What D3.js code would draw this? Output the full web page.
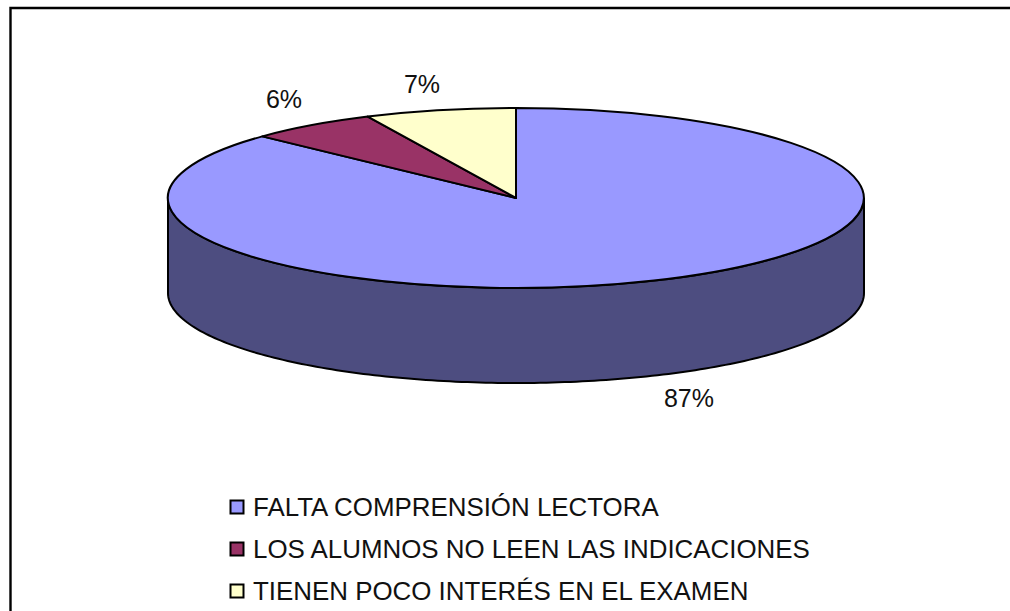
<!DOCTYPE html>
<html><head><meta charset="utf-8">
<style>html,body{margin:0;padding:0;background:#fff}svg{display:block}text{font-family:"Liberation Sans",Arial,sans-serif;fill:#111}</style>
<script src="https://cdn.jsdelivr.net/npm/d3@7"></script></head><body>
<script>
const categories=["FALTA COMPRENSIÓN LECTORA","LOS ALUMNOS NO LEEN LAS INDICACIONES","TIENEN POCO INTERÉS EN EL EXAMEN"];
const values=[87,6,7];
const colors=["#9999ff","#993366","#ffffcc"];
const sideColor="#4d4d80";
const W=1010,H=611,cx=516,cy=198,rx=348,ry=90,depth=95;
const svg=d3.select("body").append("svg").attr("width",W).attr("height",H);
svg.append("path").attr("d",`M10.5,${H}V8H${W}`).attr("fill","none").attr("stroke","#000").attr("stroke-width",2.4);
const arcs=d3.pie().sort(null).value(d=>d)(values);
const px=d3.scaleLinear().domain([-1,1]).range([cx-rx,cx+rx]);
const py=d3.scaleLinear().domain([-1,1]).range([cy-ry,cy+ry]);
const steps=d3.range(90,270.01,1).map(a=>a*Math.PI/180);
const wall=d3.area().x(t=>px(Math.sin(t))).y0(t=>py(-Math.cos(t))).y1(t=>py(-Math.cos(t))+depth);
svg.append("path").attr("d",wall(steps)).attr("fill",sideColor).attr("stroke","#000").attr("stroke-width",2);
const arc=d3.arc().innerRadius(0).outerRadius(1);
svg.append("g").attr("transform",`translate(${cx},${cy}) scale(${rx},${ry})`)
 .selectAll("path").data(arcs).join("path").attr("d",arc)
 .attr("fill",(d,i)=>colors[i]).attr("stroke","#000").attr("stroke-width",2)
 .attr("vector-effect","non-scaling-stroke").style("stroke-linejoin","round");
const labelPos=[[689,407],[284,108],[422,93]];
svg.selectAll("text.pct").data(values).join("text").attr("class","pct")
 .attr("x",(d,i)=>labelPos[i][0]).attr("y",(d,i)=>labelPos[i][1]).attr("text-anchor","middle")
 .attr("font-size",25).text(d=>d+"%");
const ly=d3.scalePoint().domain(categories).range([507,591]);
const g=svg.selectAll("g.leg").data(categories).join("g").attr("class","leg").attr("transform",d=>`translate(0,${ly(d)})`);
g.append("rect").attr("x",230.5).attr("y",-6.5).attr("width",13).attr("height",13)
 .attr("fill",(d,i)=>colors[i]).attr("stroke","#000").attr("stroke-width",2);
g.append("text").attr("x",253).attr("y",9).attr("font-size",25.9).text(d=>d);
</script></body></html>
